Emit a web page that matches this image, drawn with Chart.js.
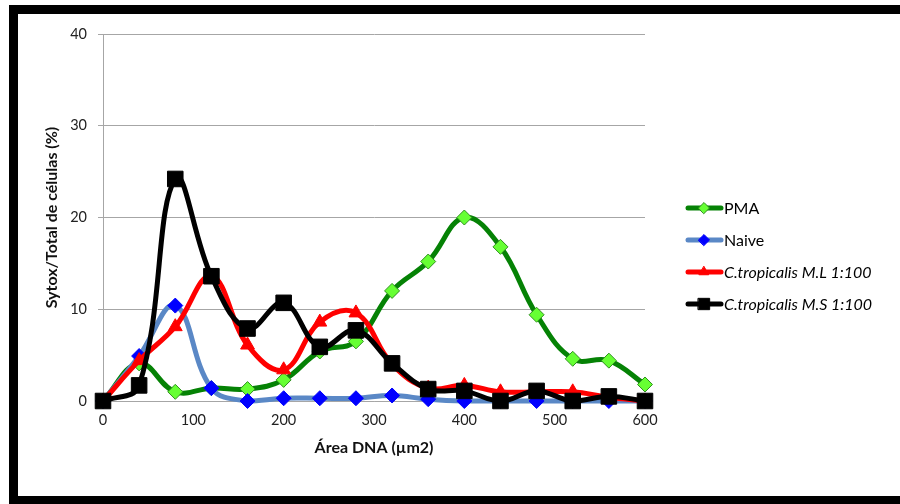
<!DOCTYPE html>
<html>
<head>
<meta charset="utf-8">
<script src="https://cdn.jsdelivr.net/npm/chart.js@4/dist/chart.umd.min.js"></script>
<style>
  html, body { margin: 0; padding: 0; background: #fff; }
  body { width: 900px; height: 504px; position: relative; overflow: hidden; }
  #frame {
    position: absolute; left: 9px; top: 5px; width: 1000px; height: 499px;
    box-sizing: border-box; border: 9px solid #000; border-bottom-width: 8px;
  }
  #wrap { position: absolute; left: 0; top: 0; width: 900px; height: 504px; }
</style>
</head>
<body>
<div id="frame"></div>
<div id="wrap"><canvas id="chart"></canvas></div>
<script>
// eixo X: área DNA (µm2)
const areas = [0, 40, 80, 120, 160, 200, 240, 280, 320, 360, 400, 440, 480, 520, 560, 600];

// séries (% sytox / total de células)
const pmaValues   = [0, 4.1, 1.0, 1.4, 1.3, 2.3, 5.4, 6.5, 12.0, 15.2, 20.0, 16.8, 9.4, 4.6, 4.4, 1.8];
const naiveValues = [0, 4.9, 10.4, 1.4, 0.0, 0.3, 0.3, 0.3, 0.6, 0.2, 0.0, 0.0, 0.0, 0.0, 0.0, 0.0];
const mlValues    = [0, 4.4, 8.1, 13.6, 6.1, 3.4, 8.6, 9.6, 4.0, 1.4, 1.7, 1.0, 1.0, 1.0, 0.4, 0.0];
const msValues    = [0, 1.7, 24.2, 13.6, 7.9, 10.7, 5.9, 7.7, 4.1, 1.3, 1.1, 0.0, 1.1, 0.0, 0.5, 0.0];

const seriesNames = ["PMA", "Naive", "C.tropicalis M.L 1:100", "C.tropicalis M.S 1:100"];
const yTicks = [0, 10, 20, 30, 40];

const FONT = "Lato, 'Open Sans', sans-serif";

function toPoints(vals) {
    return vals.map((v, i) => ({ x: areas[i], y: v }));
}

// legenda estilo Excel: linha + marcador
const excelLegend = {
    id: "excelLegend",
    afterDraw(chart) {
        const ctx = chart.ctx;
        const rows = [208, 240, 272, 304];
        chart.data.datasets.forEach((ds, i) => {
            const y = rows[i];
            ctx.save();
            ctx.strokeStyle = ds.borderColor;
            ctx.lineWidth = 5;
            ctx.lineCap = "round";
            ctx.beginPath();
            ctx.moveTo(688, y);
            ctx.lineTo(721, y);
            ctx.stroke();
            ctx.fillStyle = ds.pointBackgroundColor;
            ctx.strokeStyle = ds.pointBorderColor;
            ctx.lineWidth = 1;
            Chart.helpers.drawPoint(ctx, {
                pointStyle: ds.pointStyle,
                radius: ds.pointStyle === "rect" ? 8 : 5.5,
                rotation: 0,
                borderWidth: 1
            }, 704, y);
            ctx.fillStyle = "#000";
            ctx.textBaseline = "middle";
            ctx.textAlign = "left";
            ctx.font = (i >= 2 ? "italic " : "") + "16px " + FONT;
            ctx.fillText(seriesNames[i], 724, y + 1);
            ctx.restore();
        });
    }
};

const common = {
    showLine: true,
    borderWidth: 5,
    tension: 0.4,
    clip: false,
    pointBorderWidth: 1,
    pointHoverRadius: 9
};

new Chart(document.getElementById("chart"), {
    type: "scatter",
    data: {
        datasets: [
            {
                ...common,
                label: seriesNames[0],
                data: toPoints(pmaValues),
                borderColor: "#058205",
                pointBackgroundColor: "#66ff33",
                pointBorderColor: "#2f8f1f",
                pointStyle: "rectRot",
                pointRadius: 7.5,
                order: 3
            },
            {
                ...common,
                label: seriesNames[1],
                data: toPoints(naiveValues),
                borderColor: "#5a88c6",
                pointBackgroundColor: "#0000ff",
                pointBorderColor: "#0000ff",
                pointStyle: "rectRot",
                pointRadius: 7.5,
                order: 2
            },
            {
                ...common,
                label: seriesNames[2],
                data: toPoints(mlValues),
                borderColor: "#ff0000",
                pointBackgroundColor: "#ff0000",
                pointBorderColor: "#ff0000",
                pointStyle: "triangle",
                pointRadius: 8,
                order: 1
            },
            {
                ...common,
                label: seriesNames[3],
                data: toPoints(msValues),
                borderColor: "#000000",
                pointBackgroundColor: "#000000",
                pointBorderColor: "#000000",
                pointStyle: "rect",
                pointRadius: 11,
                order: 0
            }
        ]
    },
    options: {
        responsive: true,
        maintainAspectRatio: false,
        animation: false,
        layout: { padding: { left: 0, right: 255, top: 34, bottom: 0 } },
        scales: {
            x: {
                type: "linear",
                min: 0,
                max: 600,
                afterFit(scale) { scale.height = 103; },
                ticks: {
                    stepSize: 100,
                    padding: 11,
                    color: "#222",
                    font: { family: FONT, size: 14.5 }
                },
                grid: { display: false, drawTicks: false },
                border: { display: true, color: "#a6a6a6", width: 1 },
                title: {
                    display: true,
                    text: "Área DNA (µm2)",
                    color: "#111",
                    font: { family: FONT, size: 16, weight: "bold" },
                    padding: { top: 0, bottom: 47 }
                }
            },
            y: {
                min: 0,
                max: 40,
                afterFit(scale) { scale.width = 103; },
                afterBuildTicks(scale) { scale.ticks = yTicks.map((v) => ({ value: v })); },
                ticks: {
                    padding: 11,
                    color: "#222",
                    font: { family: FONT, size: 14.5 }
                },
                grid: { color: "#a6a6a6", lineWidth: 1, tickLength: 5 },
                border: { display: true, color: "#a6a6a6", width: 1 },
                title: {
                    display: true,
                    text: "Sytox/Total de células (%)",
                    color: "#111",
                    font: { family: FONT, size: 16, weight: "bold" },
                    padding: { top: 42, bottom: 0 }
                }
            }
        },
        plugins: {
            legend: { display: false },
            tooltip: { enabled: true }
        }
    },
    plugins: [excelLegend]
});
</script>
</body>
</html>
